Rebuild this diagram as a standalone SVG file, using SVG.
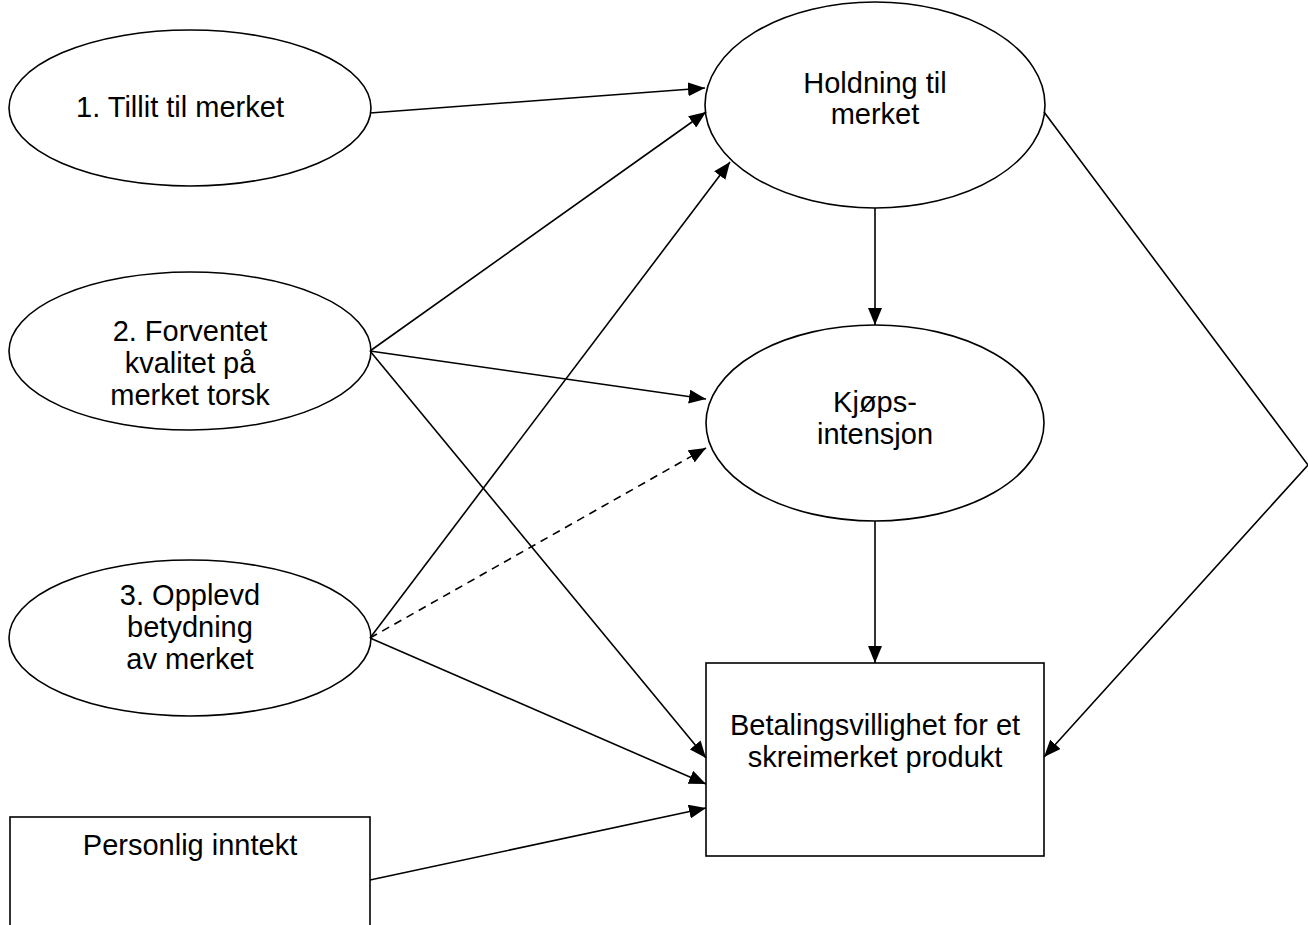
<svg xmlns="http://www.w3.org/2000/svg" width="1308" height="925" viewBox="0 0 1308 925">
<style>
.shape{fill:#fff;stroke:#000;stroke-width:1.6}
.t{font-family:"Liberation Sans",Arial,sans-serif;font-size:29px;fill:#000;text-anchor:middle}
.c{stroke:#000;stroke-width:1.6;fill:none}
.d{stroke-dasharray:8,6}
</style>
<defs>
<marker id="ah" markerUnits="userSpaceOnUse" markerWidth="18" markerHeight="14" refX="17" refY="7" orient="auto">
<path d="M0,0 L17,7 L0,14 z" fill="#000"/>
</marker>
</defs>
<rect width="1308" height="925" fill="#fff"/>
<g id="n1"><ellipse class="shape" cx="190" cy="108" rx="181" ry="78"/><text class="t" x="180" y="117">1. Tillit til merket</text></g>
<g id="n2"><ellipse class="shape" cx="190" cy="351" rx="181" ry="79"/><text class="t" x="190" y="341">2. Forventet</text><text class="t" x="190" y="373">kvalitet på</text><text class="t" x="190" y="405">merket torsk</text></g>
<g id="n3"><ellipse class="shape" cx="190" cy="638" rx="181" ry="78"/><text class="t" x="190" y="605">3. Opplevd</text><text class="t" x="190" y="637">betydning</text><text class="t" x="190" y="669">av merket</text></g>
<g id="n4"><rect class="shape" x="10" y="817" width="360" height="130"/><text class="t" x="190" y="855">Personlig inntekt</text></g>
<g id="n5"><ellipse class="shape" cx="875" cy="105" rx="170" ry="103"/><text class="t" x="875" y="93">Holdning til</text><text class="t" x="875" y="124">merket</text></g>
<g id="n6"><ellipse class="shape" cx="875" cy="423" rx="169" ry="98"/><text class="t" x="875" y="412">Kjøps-</text><text class="t" x="875" y="444">intensjon</text></g>
<g id="n7"><rect class="shape" x="706" y="663" width="338" height="193"/><text class="t" x="875" y="735">Betalingsvillighet for et</text><text class="t" x="875" y="767">skreimerket produkt</text></g>
<g id="connectors">
<line class="c" x1="370" y1="113" x2="705" y2="88" marker-end="url(#ah)"/>
<line class="c" x1="370" y1="351" x2="706" y2="112" marker-end="url(#ah)"/>
<line class="c" x1="370" y1="638" x2="730" y2="162" marker-end="url(#ah)"/>
<line class="c" x1="370" y1="351" x2="706" y2="399" marker-end="url(#ah)"/>
<line class="c" x1="370" y1="351" x2="706" y2="758" marker-end="url(#ah)"/>
<line class="c d" x1="370" y1="638" x2="706" y2="448" marker-end="url(#ah)"/>
<line class="c" x1="370" y1="638" x2="706" y2="784" marker-end="url(#ah)"/>
<line class="c" x1="370" y1="880" x2="706" y2="808" marker-end="url(#ah)"/>
<line class="c" x1="875" y1="208" x2="875" y2="325" marker-end="url(#ah)"/>
<line class="c" x1="875" y1="521" x2="875" y2="663" marker-end="url(#ah)"/>
<polyline class="c" points="1044,112 1308,465 1044,757" marker-end="url(#ah)"/>
</g>
</svg>
